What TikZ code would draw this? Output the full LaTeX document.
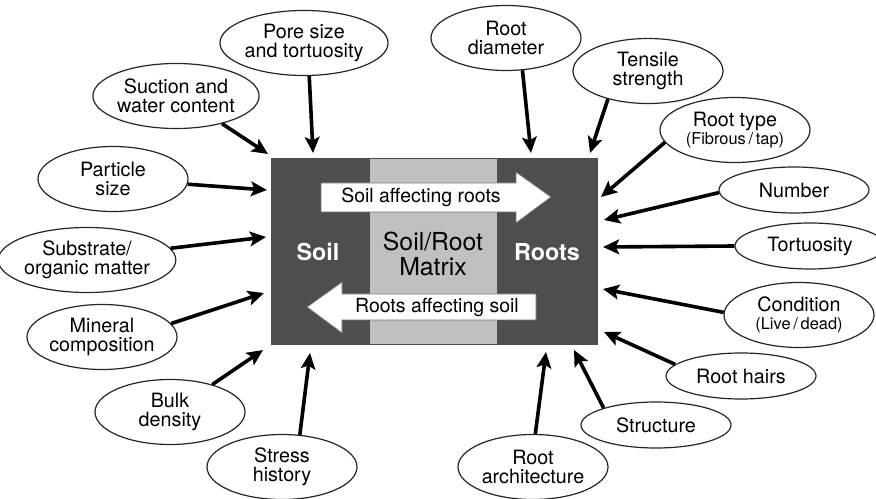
\documentclass[tikz,border=0pt]{standalone}
\usepackage{fontspec}
\setmainfont{TeX Gyre Heros}
\usetikzlibrary{shapes.geometric,arrows.meta}
\definecolor{darkbox}{RGB}{78,78,78}
\definecolor{lightbox}{RGB}{192,192,192}
\tikzset{
  ell/.style={ellipse, draw=black!85, line width=0.9pt, fill=white, inner sep=0pt,
    align=center, minimum width=112.5pt, minimum height=48.75pt,
    font=\fontsize{14.8}{14}\selectfont},
  flat/.style={minimum height=34.5pt},
  arr/.style={line width=2.7pt, -{Stealth[length=12pt,width=11pt,inset=2.5pt]}},
  bigarrow/.style={fill=white, draw=black!55, line width=0.6pt},
  sm/.style={font=\fontsize{12.3}{12.3}\selectfont}
}
\begin{document}
\begin{tikzpicture}[x=0.75pt,y=-0.75pt]
\clip (0,0) rectangle (876,499);
\fill[white] (0,0) rectangle (876,499);
% central box
\fill[darkbox] (271,158) rectangle (597,344);
\fill[lightbox] (370,158) rectangle (497,344);
\draw[black!70, line width=0.6pt] (271,158) rectangle (597,344);
% big white arrows
\draw[bigarrow] (321,183) -- (516,183) -- (516,172) -- (551,197) -- (516,223) -- (516,212) -- (321,212) -- cycle;
\node[font=\fontsize{14.6}{14.6}\selectfont] (sar) at (421,197) {Soil affecting roots};
\draw[bigarrow] (536,294) -- (342,294) -- (342,282) -- (307,307) -- (342,333) -- (342,320) -- (536,320) -- cycle;
\node[font=\fontsize{14.6}{14.6}\selectfont] (ras) at (437,307) {Roots affecting soil};
% labels in box
\node[text=white, font=\fontsize{17.5}{17.5}\selectfont\bfseries] (soil) at (318,252) {Soil};
\node[text=white, font=\fontsize{17.5}{17.5}\selectfont\bfseries] (roots) at (547,252) {Roots};
\node[align=center, font=\fontsize{18.6}{18.8}\selectfont] (matrix) at (433,254) {Soil/Root\\Matrix};
% ellipses left
\node[ell] (pore) at (304,43) {Pore size\\and tortuosity};
\node[ell] (suction) at (176,96) {Suction and\\water content};
\node[ell] (particle) at (113,179) {Particle\\size};
\node[ell] (substrate) at (87,260) {Substrate/\\organic matter};
\node[ell] (mineral) at (102,337) {Mineral\\composition};
\node[ell] (bulk) at (170,412) {Bulk\\density};
\node[ell] (stress) at (282,467) {Stress\\history};
% ellipses right
\node[ell] (rootdia) at (506,38) {Root\\diameter};
\node[ell] (tensile) at (648,71) {Tensile\\strength};
\node[ell] (roottype) at (735,130) {Root type\\{\fontsize{12.3}{12.3}\selectfont(Fibrous\,/\,tap)}};
\node[ell,flat] (number) at (794,190) {Number};
\node[ell,flat] (tort) at (810,246) {Tortuosity};
\node[ell] (cond) at (799,315) {Condition\\{\fontsize{12.3}{12.3}\selectfont(Live\,/\,dead)}};
\node[ell,flat] (hairs) at (741,376) {Root hairs};
\node[ell,flat] (structure) at (656,425) {Structure};
\node[ell] (arch) at (533,467) {Root\\architecture};
% arrow tips
\coordinate (tpore) at (313,153);
\coordinate (tsuction) at (268,154);
\coordinate (tparticle) at (267,190);
\coordinate (tsubstrate) at (266,237);
\coordinate (tmineral) at (264,293);
\coordinate (tbulk) at (263,350);
\coordinate (tstress) at (310,353);
\coordinate (trootdia) at (531,153);
\coordinate (ttensile) at (590,153);
\coordinate (troottype) at (601,197);
\coordinate (tnumber) at (604,220);
\coordinate (ttort) at (603,247);
\coordinate (tcond) at (603,289);
\coordinate (thairs) at (604,332);
\coordinate (tstructure) at (574,350);
\coordinate (tarch) at (546,352);
% arrows
\draw[arr] (pore.-81) -- (tpore);
\draw[arr] (suction.-31) -- (tsuction);
\draw[arr] (particle.-4) -- (tparticle);
\draw[arr] (substrate.8) -- (tsubstrate);
\draw[arr] (mineral.11) -- (tmineral);
\draw[arr] (bulk.33) -- (tbulk);
\draw[arr] (stress.61) -- (tstress);
\draw[arr] (rootdia.-63) -- (trootdia);
\draw[arr] (tensile.215) -- (ttensile);
\draw[arr] (roottype.190) -- (troottype);
\draw[arr] (number.182) -- (tnumber);
\draw[arr] (tort.180) -- (ttort);
\draw[arr] (cond.178) -- (tcond);
\draw[arr] (hairs.170) -- (thairs);
\draw[arr] (structure.162) -- (tstructure);
\draw[arr] (arch.86) -- (tarch);
\end{tikzpicture}
\end{document}
